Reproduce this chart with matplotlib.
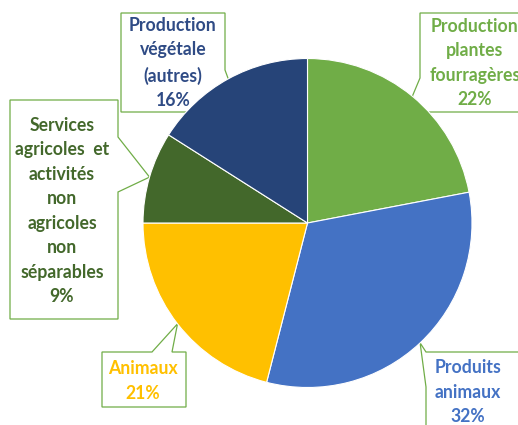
import numpy as np
import matplotlib
matplotlib.use('Agg')
import matplotlib.pyplot as plt
from matplotlib.patches import Polygon

# Share of each activity in agricultural output (%)
labels = ['Production\nplantes\nfourragères', 'Produits\nanimaux', 'Animaux',
          'Services\nagricoles  et\nactivités\nnon\nagricoles\nnon\nséparables',
          'Production\nvégétale\n(autres)']
shares = [22, 32, 21, 9, 16]
slice_colors = ['#70AD47', '#4472C4', '#FFC000', '#43682B', '#264478']
text_colors = ['#70AD47', '#4472C4', '#FFC000', '#43682B', '#2F4B85']

# Figure laid out in pixel units (y measured from the top of the image)
W, H = 518, 425
CX, CY, R = 307.5, 223, 164.5
BORDER = '#70AD47'

# Callout boxes: rectangle (x0, y0, x1, y1), side carrying the pointer and
# the two base positions of the pointer along that side
boxes = [
    ((420, 13, 530, 112), 'left', (78, 108)),
    ((426, 352, 530, 440), 'left', (352, 387)),
    ((102, 352, 186, 407), 'top', (152, 172)),
    ((10, 100, 118, 319), 'right', (137, 192)),
    ((121, 13, 225, 112), 'right', (70, 95)),
]
text_pos = [(475, 63), (468, 392), (143, 381), (62, 211), (173, 63)]


def img(y):
    return H - y


fig = plt.figure(figsize=(W / 100, H / 100), dpi=100)
ax = fig.add_axes([0, 0, 1, 1])

wedges, _ = ax.pie(shares, colors=slice_colors, startangle=90, counterclock=False,
                   center=(CX, img(CY)), radius=R,
                   wedgeprops=dict(edgecolor='white', linewidth=0.8))
for w in wedges:
    w.set_zorder(3)

# Mid angle of each slice (degrees, counter-clockwise from +x)
bounds = 90 - np.cumsum([0] + shares) * 3.6
mids = (bounds[:-1] + bounds[1:]) / 2

for i, ((x0, y0, x1, y1), side, (b0, b1)) in enumerate(boxes):
    a = np.radians(mids[i])
    tip = (CX + R * np.cos(a), CY - R * np.sin(a))
    if side == 'left':
        pts = [(x0, y0), (x1, y0), (x1, y1), (x0, y1), (x0, b1), tip, (x0, b0)]
    elif side == 'right':
        pts = [(x0, y0), (x1, y0), (x1, b0), tip, (x1, b1), (x1, y1), (x0, y1)]
    else:
        pts = [(x0, y0), (b0, y0), tip, (b1, y0), (x1, y0), (x1, y1), (x0, y1)]
    pts = [(px, img(py)) for px, py in pts]
    ax.add_patch(Polygon(pts, closed=True, facecolor='white', edgecolor=BORDER,
                         linewidth=0.9, zorder=1))
    tx, ty = text_pos[i]
    ax.text(tx, img(ty), f'{labels[i]}\n{shares[i]}%', ha='center', va='center',
            color=text_colors[i], fontsize=12.7, fontweight='bold',
            family='Lato', linespacing=1.53, zorder=5)

ax.set_xlim(0, W)
ax.set_ylim(0, H)
ax.set_aspect('equal')
ax.set_axis_off()

fig.savefig('out.png', dpi=100, facecolor='white')
